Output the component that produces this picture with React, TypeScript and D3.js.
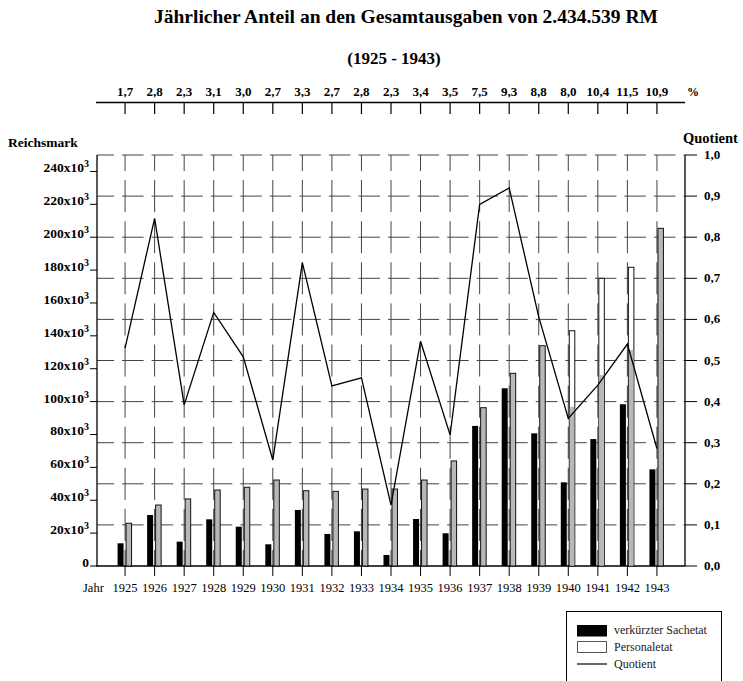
import React, { useEffect, useRef } from "react";
import * as d3 from "d3";

const jahre = [1925, 1926, 1927, 1928, 1929, 1930, 1931, 1932, 1933, 1934, 1935, 1936, 1937, 1938, 1939, 1940, 1941, 1942, 1943];
const anteilProzent = ["1,7", "2,8", "2,3", "3,1", "3,0", "2,7", "3,3", "2,7", "2,8", "2,3", "3,4", "3,5", "7,5", "9,3", "8,8", "8,0", "10,4", "11,5", "10,9"];
// in Tausend RM
const sachetat = [13.8, 31.0, 14.8, 28.4, 23.9, 13.2, 34.1, 19.5, 21.1, 6.7, 28.6, 19.9, 85.2, 108.1, 80.7, 50.9, 77.2, 98.4, 58.8];
const personaletat = [26.0, 37.1, 40.8, 46.2, 47.9, 52.3, 45.8, 45.4, 46.8, 46.8, 52.3, 63.9, 96.3, 117.2, 134.0, 143.1, 175.0, 181.7, 205.4];
const quotient = [0.53, 0.846, 0.392, 0.617, 0.509, 0.258, 0.738, 0.438, 0.458, 0.148, 0.547, 0.319, 0.88, 0.92, 0.606, 0.359, 0.44, 0.54, 0.286];
// Jahre, in denen der Personaletat-Balken oben weiss ist (grau nur bis zu diesem Wert)
const weissJahre = [1940, 1941, 1942];
const grauBis = [96.9, 116.2, 131.4];
const rmTicks = [0, 20, 40, 60, 80, 100, 120, 140, 160, 180, 200, 220, 240];
const quotTicks = [0, 0.1, 0.2, 0.3, 0.4, 0.5, 0.6, 0.7, 0.8, 0.9, 1.0];
const legende = ["verkürzter Sachetat", "Personaletat", "Quotient"];

const FONT = "Liberation Serif, DejaVu Serif, serif";

const App = () => {
  const ref = useRef(null);

  useEffect(() => {
    document.body.style.margin = "0";
    const svg = d3.select(ref.current);
    svg.selectAll("*").remove();

    const left = 97;
    const right = 685;
    const top = 155;
    const bottom = 566;

    const x = d3.scalePoint().domain(jahre).range([left, right]).padding(0.95);
    const yL = d3.scaleLinear().domain([0, 250]).range([bottom, top]);
    const yR = d3.scaleLinear().domain([0, 1]).range([bottom, top]);
    const step = x.step();
    const rowStep = yR(0) - yR(0.1);

    const g = svg.append("g").style("font-family", FONT);

    // Titel
    g.append("text")
      .attr("x", 406)
      .attr("y", 23)
      .attr("text-anchor", "middle")
      .attr("font-weight", "bold")
      .attr("font-size", 19.5)
      .text("Jährlicher Anteil an den Gesamtausgaben von 2.434.539 RM");
    g.append("text")
      .attr("x", 394)
      .attr("y", 64)
      .attr("text-anchor", "middle")
      .attr("font-weight", "bold")
      .attr("font-size", 17)
      .text("(1925 - 1943)");

    // obere Achse mit Prozentwerten
    g.append("line")
      .attr("x1", left - 1).attr("x2", right)
      .attr("y1", 102.5).attr("y2", 102.5)
      .attr("stroke", "#000").attr("stroke-width", 1.5);
    g.selectAll(".topTick")
      .data(jahre)
      .join("line")
      .attr("x1", (d) => x(d)).attr("x2", (d) => x(d))
      .attr("y1", 102.5).attr("y2", 114)
      .attr("stroke", "#000").attr("stroke-width", 1.2);
    g.selectAll(".topLabel")
      .data(jahre)
      .join("text")
      .attr("x", (d) => x(d))
      .attr("y", 96)
      .attr("text-anchor", "middle")
      .attr("font-weight", "bold")
      .attr("font-size", 13)
      .text((d, i) => anteilProzent[i]);
    g.append("text")
      .attr("x", 693).attr("y", 96)
      .attr("text-anchor", "middle")
      .attr("font-weight", "bold")
      .attr("font-size", 12)
      .text("%");

    // Gitter
    const hGap = 8;
    g.selectAll(".hGrid")
      .data(quotTicks.filter((d) => d > 0))
      .join("line")
      .attr("x1", left).attr("x2", right)
      .attr("y1", (d) => yR(d)).attr("y2", (d) => yR(d))
      .attr("stroke", "#444").attr("stroke-width", 1)
      .attr("stroke-dasharray", `${step - hGap} ${hGap}`)
      .attr("stroke-dashoffset", step - hGap - (x(jahre[0]) - 11 - left));
    const vGap = 9;
    g.selectAll(".vGrid")
      .data(jahre)
      .join("line")
      .attr("x1", (d) => x(d)).attr("x2", (d) => x(d))
      .attr("y1", top).attr("y2", bottom)
      .attr("stroke", "#444").attr("stroke-width", 1)
      .attr("stroke-dasharray", `${rowStep - vGap} ${vGap}`)
      .attr("stroke-dashoffset", rowStep - vGap - (rowStep / 2 - vGap / 2));

    // untere Achse
    g.append("line")
      .attr("x1", left - 1).attr("x2", right)
      .attr("y1", bottom).attr("y2", bottom)
      .attr("stroke", "#000").attr("stroke-width", 1.3);
    g.selectAll(".botTick")
      .data(jahre)
      .join("line")
      .attr("x1", (d) => x(d)).attr("x2", (d) => x(d))
      .attr("y1", bottom).attr("y2", bottom + 10)
      .attr("stroke", "#000").attr("stroke-width", 1);
    g.selectAll(".yearLabel")
      .data(jahre)
      .join("text")
      .attr("x", (d) => x(d))
      .attr("y", 592)
      .attr("text-anchor", "middle")
      .attr("font-size", 12.5)
      .text((d) => d);
    g.append("text")
      .attr("x", 83).attr("y", 592)
      .attr("font-size", 12.5)
      .text("Jahr");

    // linke Achse
    g.append("line")
      .attr("x1", left).attr("x2", left)
      .attr("y1", top).attr("y2", bottom)
      .attr("stroke", "#000").attr("stroke-width", 1.3);
    g.selectAll(".lTick")
      .data(rmTicks)
      .join("line")
      .attr("x1", left - 7).attr("x2", left)
      .attr("y1", (d) => yL(d)).attr("y2", (d) => yL(d))
      .attr("stroke", "#000").attr("stroke-width", 1);
    const lLabels = g.selectAll(".lLabel")
      .data(rmTicks)
      .join("text")
      .attr("x", 89)
      .attr("y", (d) => yL(d) + 1)
      .attr("text-anchor", "end")
      .attr("font-weight", "bold")
      .attr("font-size", 13.5);
    lLabels.each(function (d) {
      const t = d3.select(this);
      if (d === 0) {
        t.text("0");
      } else {
        t.append("tspan").text(`${d}x10`);
        t.append("tspan").attr("dy", -5).attr("font-size", 10).text("3");
      }
    });
    g.append("text")
      .attr("x", 8).attr("y", 147)
      .attr("font-weight", "bold")
      .attr("font-size", 13.5)
      .text("Reichsmark");

    // rechte Achse
    g.append("line")
      .attr("x1", right).attr("x2", right)
      .attr("y1", top).attr("y2", bottom)
      .attr("stroke", "#000").attr("stroke-width", 1.3);
    g.selectAll(".rTick")
      .data(quotTicks)
      .join("line")
      .attr("x1", right).attr("x2", right + 12)
      .attr("y1", (d) => yR(d)).attr("y2", (d) => yR(d))
      .attr("stroke", "#000").attr("stroke-width", 1);
    g.selectAll(".rLabel")
      .data(quotTicks)
      .join("text")
      .attr("x", 704)
      .attr("y", (d) => yR(d) + 4)
      .attr("font-weight", "bold")
      .attr("font-size", 13)
      .text((d) => d3.format(".1f")(d).replace(".", ","));
    g.append("text")
      .attr("x", 683).attr("y", 143)
      .attr("font-weight", "bold")
      .attr("font-size", 14.5)
      .text("Quotient");

    // Balken
    g.selectAll(".sach")
      .data(jahre)
      .join("rect")
      .attr("x", (d) => x(d) - 7.5)
      .attr("width", 6)
      .attr("y", (d, i) => yL(sachetat[i]))
      .attr("height", (d, i) => yL(0) - yL(sachetat[i]))
      .attr("fill", "#000");
    g.selectAll(".pers")
      .data(jahre)
      .join("rect")
      .attr("x", (d) => x(d) + 1)
      .attr("width", 5.5)
      .attr("y", (d, i) => yL(personaletat[i]))
      .attr("height", (d, i) => yL(0) - yL(personaletat[i]))
      .attr("fill", (d) => (weissJahre.includes(d) ? "#fff" : "#b8b8b8"))
      .attr("stroke", "#111")
      .attr("stroke-width", 1);
    g.selectAll(".persGrau")
      .data(weissJahre)
      .join("rect")
      .attr("x", (d) => x(d) + 1.5)
      .attr("width", 4.5)
      .attr("y", (d, i) => yL(grauBis[i]))
      .attr("height", (d, i) => yL(0) - yL(grauBis[i]) - 0.5)
      .attr("fill", "#b8b8b8");

    // Quotient-Linie
    const line = d3.line()
      .x((d, i) => x(jahre[i]))
      .y((d) => yR(d));
    g.append("path")
      .datum(quotient)
      .attr("d", line)
      .attr("fill", "none")
      .attr("stroke", "#000")
      .attr("stroke-width", 1.3);

    // Legende
    const lg = g.append("g");
    lg.append("rect")
      .attr("x", 566.5).attr("y", 611.5)
      .attr("width", 155).attr("height", 80)
      .attr("fill", "#fff")
      .attr("stroke", "#000").attr("stroke-width", 1);
    lg.append("rect")
      .attr("x", 577).attr("y", 625).attr("width", 30).attr("height", 11.5)
      .attr("fill", "#000");
    lg.append("rect")
      .attr("x", 577.5).attr("y", 641.5).attr("width", 29).attr("height", 11)
      .attr("fill", "#fff").attr("stroke", "#555").attr("stroke-width", 1);
    lg.append("line")
      .attr("x1", 577).attr("x2", 607).attr("y1", 664).attr("y2", 664)
      .attr("stroke", "#333").attr("stroke-width", 1.5);
    lg.selectAll(".legText")
      .data(legende)
      .join("text")
      .attr("x", 614)
      .attr("y", (d, i) => [634, 651, 668][i])
      .attr("font-size", 12)
      .attr("fill", "#222")
      .text((d) => d);
  }, []);

  return <svg ref={ref} width={743} height={681} style={{ display: "block", background: "#fff" }}></svg>;
};

export default App;
